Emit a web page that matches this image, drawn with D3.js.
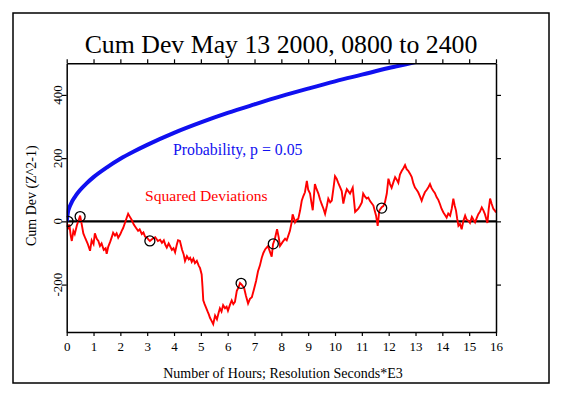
<!DOCTYPE html>
<html>
<head>
<meta charset="utf-8">
<script src="https://cdn.jsdelivr.net/npm/d3@7"></script>
<style>
  html, body { margin: 0; padding: 0; background: #fff; }
  svg text { font-family: "Liberation Serif", "DejaVu Serif", serif; }
</style>
</head>
<body>
<svg id="chart" width="564" height="396"></svg>
<script>
// ---- data ----
const titleText = "Cum Dev May 13 2000, 0800 to 2400";
const xAxisTitle = "Number of Hours; Resolution Seconds*E3";
const yAxisTitle = "Cum Dev (Z^2-1)";
const xTicks = [0,1,2,3,4,5,6,7,8,9,10,11,12,13,14,15,16];
const yTicks = [-200, 0, 200, 400];
const yTickLabels = ["-200", "0", "200", "400"];
const probLabel = "Probability, p = 0.05";
const devLabel = "Squared Deviations";

// probability envelope (hours, cumulative value)
const probHours  = [0, 0.05, 0.1, 0.2, 0.35, 0.5, 0.75, 1, 1.5, 2, 2.5, 3, 4, 5, 6, 7, 8, 9, 10, 11, 12, 12.8, 13.5];
const probValues = [0, 31, 44, 63, 83, 99, 121, 140, 171, 198, 221, 242, 280, 313, 343, 370, 396, 420, 443, 464, 485, 500, 514];

// cumulative squared deviations [hours, value]
const devSeries = [[0,0],[0.05,-25],[0.1,-10],[0.15,-45],[0.19,-62],[0.25,-30],[0.3,-40],[0.38,-12],[0.45,5],[0.5,18],[0.55,-5],[0.62,-38],[0.7,-55],[0.78,-70],[0.87,-93],[0.93,-60],[1.0,-72],[1.05,-38],[1.12,-55],[1.18,-62],[1.24,-78],[1.3,-70],[1.38,-90],[1.45,-85],[1.49,-103],[1.55,-80],[1.62,-65],[1.68,-50],[1.73,-36],[1.8,-45],[1.86,-38],[1.92,-52],[2.0,-40],[2.05,-30],[2.1,-22],[2.17,-5],[2.23,10],[2.29,24],[2.35,15],[2.42,5],[2.5,-10],[2.58,-20],[2.66,-30],[2.72,-25],[2.8,-40],[2.86,-35],[2.92,-48],[3.0,-52],[3.05,-58],[3.1,-62],[3.2,-55],[3.3,-50],[3.4,-62],[3.48,-58],[3.55,-68],[3.62,-60],[3.68,-75],[3.73,-83],[3.8,-70],[3.85,-78],[3.92,-90],[3.98,-85],[4.04,-98],[4.1,-75],[4.15,-60],[4.22,-62],[4.3,-90],[4.36,-105],[4.41,-125],[4.48,-110],[4.55,-120],[4.6,-115],[4.66,-128],[4.72,-118],[4.78,-132],[4.85,-125],[4.92,-140],[4.97,-148],[5.03,-168],[5.06,-205],[5.09,-250],[5.14,-262],[5.19,-272],[5.25,-285],[5.3,-295],[5.34,-305],[5.4,-315],[5.46,-325],[5.53,-298],[5.6,-310],[5.66,-290],[5.71,-275],[5.77,-285],[5.83,-265],[5.9,-275],[5.96,-270],[6.01,-283],[6.08,-265],[6.15,-250],[6.21,-262],[6.27,-255],[6.34,-220],[6.4,-210],[6.46,-195],[6.52,-200],[6.61,-210],[6.68,-235],[6.76,-260],[6.83,-245],[6.9,-240],[6.98,-215],[7.06,-188],[7.13,-158],[7.2,-140],[7.27,-115],[7.33,-100],[7.4,-88],[7.5,-78],[7.57,-95],[7.64,-112],[7.69,-72],[7.76,-55],[7.84,-25],[7.9,-50],[7.95,-78],[8.05,-65],[8.14,-55],[8.2,-60],[8.26,-45],[8.32,-30],[8.38,-5],[8.42,22],[8.47,10],[8.51,-3],[8.57,5],[8.63,8],[8.7,35],[8.76,65],[8.82,80],[8.88,92],[8.95,128],[9.0,100],[9.07,88],[9.12,60],[9.17,35],[9.25,118],[9.3,105],[9.38,88],[9.44,70],[9.5,55],[9.57,40],[9.63,24],[9.7,50],[9.75,72],[9.82,60],[9.88,66],[9.95,110],[10.0,143],[10.06,135],[10.12,122],[10.18,110],[10.25,96],[10.31,56],[10.38,85],[10.44,102],[10.5,95],[10.56,88],[10.66,107],[10.75,30],[10.81,35],[10.87,40],[10.94,50],[11.0,60],[11.05,88],[11.12,78],[11.18,72],[11.24,75],[11.3,65],[11.36,58],[11.43,50],[11.53,18],[11.59,-14],[11.65,34],[11.74,45],[11.8,48],[11.86,60],[11.93,88],[11.99,135],[12.05,118],[12.11,106],[12.18,125],[12.24,140],[12.3,132],[12.36,122],[12.42,148],[12.49,160],[12.55,168],[12.61,178],[12.67,165],[12.73,160],[12.8,150],[12.86,140],[12.92,120],[12.98,107],[13.04,100],[13.1,92],[13.17,78],[13.23,65],[13.29,80],[13.35,92],[13.42,100],[13.48,108],[13.54,118],[13.6,105],[13.66,97],[13.72,90],[13.79,76],[13.85,68],[13.91,55],[13.97,40],[14.04,28],[14.1,20],[14.16,12],[14.22,25],[14.29,18],[14.35,40],[14.41,72],[14.46,50],[14.51,34],[14.55,10],[14.6,-14],[14.66,-8],[14.72,-25],[14.78,0],[14.85,18],[14.91,5],[14.97,2],[15.03,-5],[15.1,14],[15.16,5],[15.22,-3],[15.28,10],[15.34,23],[15.4,30],[15.47,44],[15.53,35],[15.59,22],[15.68,-5],[15.73,40],[15.78,72],[15.84,55],[15.9,40],[15.95,35],[16.0,28]];

// event markers (hours, value)
const markerHours  = [0.05, 0.5, 3.1, 6.5, 7.7, 11.74];
const markerValues = [0, 15, -62, -196, -71, 42];

// ---- drawing ----
const svg = d3.select("#chart");
const pLeft = 66.7, pRight = 496, pTop = 63.3, pBottom = 332;

const x = d3.scaleLinear().domain([0, 16]).range([pLeft, pRight]);
const y = d3.scaleLinear().domain([-350, 500]).range([pBottom, pTop]);

// outer frame
svg.append("rect").attr("x", 13).attr("y", 13).attr("width", 536).attr("height", 370)
  .attr("fill", "none").attr("stroke", "#000").attr("stroke-width", 1.5);

// title
svg.append("text").attr("x", 281).attr("y", 53).attr("text-anchor", "middle")
  .attr("font-size", 25.8).attr("fill", "#000").text(titleText);

// clip
svg.append("clipPath").attr("id", "plotclip").append("rect")
  .attr("x", pLeft).attr("y", pTop).attr("width", pRight - pLeft).attr("height", pBottom - pTop);

const plot = svg.append("g").attr("clip-path", "url(#plotclip)");

// zero line
plot.append("line").attr("x1", x(0)).attr("x2", x(16)).attr("y1", y(0)).attr("y2", y(0))
  .attr("stroke", "#000").attr("stroke-width", 2.2);

// probability curve
const probData = probHours.map((h, i) => [h, probValues[i]]);
plot.append("path").datum(probData)
  .attr("d", d3.line().x(d => x(d[0])).y(d => y(d[1])).curve(d3.curveMonotoneX))
  .attr("fill", "none").attr("stroke", "#1010f0").attr("stroke-width", 4);

// deviation series
plot.append("path").datum(devSeries)
  .attr("d", d3.line().x(d => x(d[0])).y(d => y(d[1])))
  .attr("fill", "none").attr("stroke", "#ff0000").attr("stroke-width", 1.9)
  .attr("stroke-linejoin", "miter");

// markers
plot.selectAll("circle.marker").data(markerHours).enter().append("circle")
  .attr("cx", (h) => x(h)).attr("cy", (h, i) => y(markerValues[i])).attr("r", 5)
  .attr("fill", "none").attr("stroke", "#000").attr("stroke-width", 1.3);

// labels inside plot
svg.append("text").attr("x", 173).attr("y", 155).attr("font-size", 15.8).attr("fill", "#1010f0").text(probLabel);
svg.append("text").attr("x", 145).attr("y", 201).attr("font-size", 15.6).attr("fill", "#ff0000").text(devLabel);

// axes
const fmtX = d3.format("d");
const axBottom = d3.axisBottom(x).tickValues(xTicks).tickSize(4).tickSizeOuter(0).tickPadding(6).tickFormat(fmtX);
const axTop = d3.axisTop(x).tickValues(xTicks).tickSize(4).tickSizeOuter(0).tickFormat("");
const axLeft = d3.axisLeft(y).tickValues(yTicks).tickSize(5).tickSizeOuter(0).tickFormat("");
const axRight = d3.axisRight(y).tickValues(yTicks).tickSize(5).tickSizeOuter(0).tickFormat("");

function styleAxis(g) {
  g.select(".domain").attr("stroke", "#000").attr("stroke-width", 1.5);
  g.selectAll(".tick line").attr("stroke", "#000").attr("stroke-width", 1.2);
}

const gB = svg.append("g").attr("transform", `translate(0,${pBottom})`).call(axBottom).call(styleAxis);
gB.selectAll(".tick text").attr("font-family", "Liberation Serif").attr("font-size", 13).attr("fill", "#000");
svg.append("g").attr("transform", `translate(0,${pTop})`).call(axTop).call(styleAxis);
svg.append("g").attr("transform", `translate(${pLeft},0)`).call(axLeft).call(styleAxis);
svg.append("g").attr("transform", `translate(${pRight},0)`).call(axRight).call(styleAxis);

// rotated y tick labels
svg.selectAll("text.ytl").data(yTicks).enter().append("text")
  .attr("class", "ytl")
  .attr("transform", (v) => `translate(${pLeft - 5},${y(v)}) rotate(-90)`)
  .attr("text-anchor", "middle").attr("font-size", 13).attr("fill", "#000")
  .text((v, i) => yTickLabels[i]);

// axis titles
svg.append("text").attr("transform", `translate(36,${(pTop + pBottom) / 2 - 2}) rotate(-90)`)
  .attr("text-anchor", "middle").attr("font-size", 14).attr("fill", "#000").text(yAxisTitle);
svg.append("text").attr("x", 283).attr("y", 378).attr("text-anchor", "middle")
  .attr("font-size", 14).attr("fill", "#000").text(xAxisTitle);
</script>
</body>
</html>
